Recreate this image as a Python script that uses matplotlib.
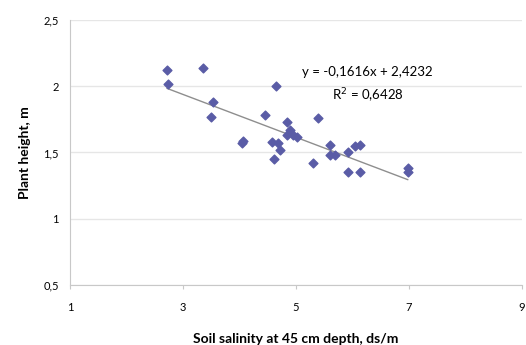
import matplotlib.pyplot as plt
import numpy as np

# soil salinity (ds/m) vs plant height (m)
salinity = [2.72, 2.73, 3.35, 3.53, 3.50, 4.06, 4.04, 4.45, 4.65, 4.58,
            4.68, 4.72, 4.61, 4.84, 4.84, 4.89, 4.95, 5.02, 5.39, 5.30,
            5.60, 5.60, 5.69, 5.92, 6.13, 6.04, 5.92, 6.13, 6.98, 6.98]
height = [2.12, 2.02, 2.14, 1.88, 1.77, 1.59, 1.57, 1.78, 2.00, 1.58,
          1.57, 1.52, 1.45, 1.73, 1.63, 1.67, 1.63, 1.62, 1.76, 1.42,
          1.56, 1.48, 1.48, 1.50, 1.56, 1.55, 1.35, 1.35, 1.38, 1.35]
slope = -0.1616
intercept = 2.4232
r2 = 0.6428

x_ticks = [1, 3, 5, 7, 9]
y_ticks = [0.5, 1, 1.5, 2, 2.5]

plt.rcParams['font.family'] = ['Lato', 'DejaVu Sans']

fig = plt.figure(figsize=(5.26, 3.45), dpi=100)
ax = fig.add_axes([0.133, 0.174, 0.859, 0.768])

ax.scatter(salinity, height, marker='D', s=20, color='#5A5CA6', zorder=3)

xs = np.array([min(salinity), max(salinity)])
ax.plot(xs, slope * xs + intercept, color='#8E8E8E', lw=1, zorder=2)

ax.set_xlim(1, 9)
ax.set_ylim(0.5, 2.5)
ax.set_xticks(x_ticks)
ax.set_yticks(y_ticks)
ax.set_xticklabels([str(t) for t in x_ticks])
ax.set_yticklabels([('%g' % t).replace('.', ',') for t in y_ticks])
ax.grid(axis='y', color='#E6E6E6', lw=1)
ax.set_axisbelow(True)
for s in ['top', 'right']:
    ax.spines[s].set_visible(False)
for s in ['left', 'bottom']:
    ax.spines[s].set_color('#C8C8C8')
ax.tick_params(axis='y', length=0, labelsize=8, pad=8)
ax.tick_params(axis='x', length=3, color='#C8C8C8', labelsize=8, pad=9)

ax.text(6.27, 2.11, 'y = -0,1616x + 2,4232', ha='center', va='center', fontsize=9.5)
ax.text(6.27, 1.93, 'R$^2$ = 0,6428', ha='center', va='center', fontsize=9.5)

ax.set_xlabel('Soil salinity at 45 cm depth, ds/m', fontsize=10, fontweight='bold', labelpad=15)
ax.set_ylabel('Plant height, m', fontsize=10, fontweight='bold', labelpad=9)

fig.savefig('out.png', dpi=100)
